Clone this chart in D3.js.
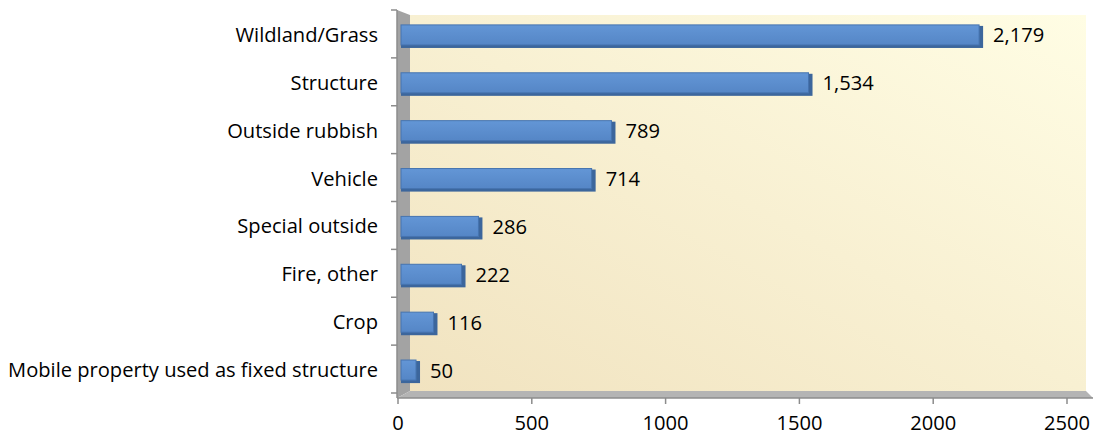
<!DOCTYPE html>
<html><head><meta charset="utf-8">
<script src="https://cdn.jsdelivr.net/npm/d3@7"></script>
<style>body{margin:0;background:#fff}svg{display:block}text{font-family:"Open Sans","Noto Sans",sans-serif;fill:#000}</style>
</head><body>
<svg id="c" width="1095" height="436"></svg>
<script>
const categories = ["Wildland/Grass","Structure","Outside rubbish","Vehicle","Special outside","Fire, other","Crop","Mobile property used as fixed structure"];
const values = [2179,1534,789,714,286,222,116,50];
const xTicks = [0,500,1000,1500,2000,2500];

const svg = d3.select("#c");
const x = d3.scaleLinear().domain([0,2500]).range([398,1067]);      // front axis plane
const xb = d3.scaleLinear().domain([0,2500]).range([405.8,1067]);   // bar plane
const y = d3.scaleBand().domain(categories).range([11.5,394.5]).paddingInner(0.56).paddingOuter(0.28);
const yb = d3.scaleBand().domain(categories).range([10,393]);

const defs = svg.append("defs");
const g1 = defs.append("linearGradient").attr("id","wall").attr("x1","0").attr("y1","1").attr("x2","1").attr("y2","0");
g1.append("stop").attr("offset","0").attr("stop-color","#f1e3c0");
g1.append("stop").attr("offset","1").attr("stop-color","#fffde4");
const g2 = defs.append("linearGradient").attr("id","bar").attr("x1","0").attr("y1","0").attr("x2","0").attr("y2","1");
g2.append("stop").attr("offset","0").attr("stop-color","#6396d6");
g2.append("stop").attr("offset","1").attr("stop-color","#5586c6");

// fit font size so the longest label spans ~370px
const probe = svg.append("text").style("font-size","20px").text(categories[7]);
const fs = 20 * 370 / probe.node().getComputedTextLength();
probe.remove();

svg.append("rect").attr("x",410).attr("y",15).attr("width",676).attr("height",376).attr("fill","url(#wall)");
svg.append("polygon").attr("points","397,10 410,15 410,391 397,398").attr("fill","#a3a3a3");
svg.append("polygon").attr("points","397,398 410,391 1086,391 1093,398").attr("fill","#b4b4b4");

const bars = svg.append("g");
categories.forEach((c,i)=>{
  const v = values[i];
  const x0 = 401, x1 = xb(v);
  const y0 = y(c), h = y.bandwidth();
  bars.append("rect").attr("x",x0).attr("y",y0+1).attr("width",x1-x0+1).attr("height",h+1).attr("fill","#3c669c");
  bars.append("rect").attr("x",x0).attr("y",y0).attr("width",x1-x0-3).attr("height",h-1).attr("fill","url(#bar)").attr("stroke","#4674b0").attr("stroke-width",1);
  bars.append("text").attr("x",x1+11).attr("y",y0+h/2).attr("dy","0.35em").style("font-size",fs+"px").text(d3.format(",")(v));
});

svg.append("line").attr("x1",397).attr("x2",397).attr("y1",10).attr("y2",398).attr("stroke","#8c8c8c").attr("stroke-width",1.5);
const bounds = categories.map(c=>yb(c)).concat([393]);
svg.append("g").selectAll("line").data(bounds).join("line")
  .attr("x1",391).attr("x2",397).attr("y1",d=>d).attr("y2",d=>d).attr("stroke","#8c8c8c").attr("stroke-width",1.5);
svg.append("g").selectAll("text").data(categories).join("text")
  .attr("x",378).attr("y",d=>yb(d)+yb.bandwidth()/2+1).attr("dy","0.35em").attr("text-anchor","end")
  .style("font-size",fs+"px").text(d=>d);

svg.append("line").attr("x1",397).attr("x2",1093).attr("y1",398).attr("y2",398).attr("stroke","#8c8c8c").attr("stroke-width",1.5);
svg.append("g").selectAll("line").data(xTicks).join("line")
  .attr("x1",d=>x(d)).attr("x2",d=>x(d)).attr("y1",398).attr("y2",404).attr("stroke","#8c8c8c").attr("stroke-width",1.5);
svg.append("g").selectAll("text").data(xTicks).join("text")
  .attr("x",d=>x(d)).attr("y",423).attr("dy","0.35em").attr("text-anchor","middle")
  .style("font-size",fs+"px").text(d=>d);
</script>
</body></html>
